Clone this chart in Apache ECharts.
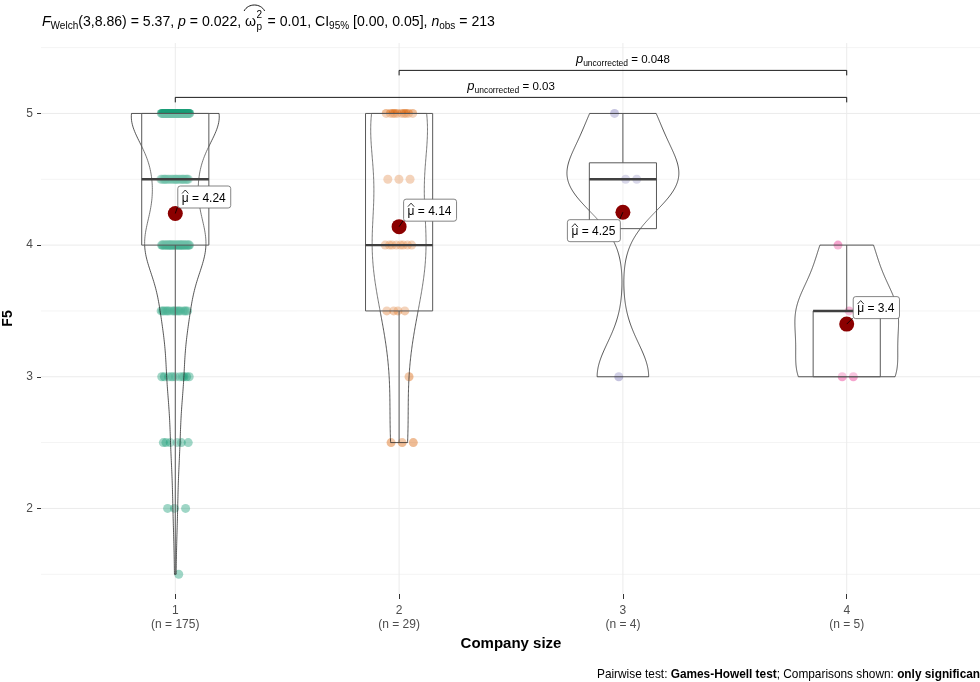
<!DOCTYPE html>
<html>
<head>
<meta charset="utf-8">
<script src="https://cdn.jsdelivr.net/npm/echarts@6/dist/echarts.min.js"></script>
<style>
html, body { margin: 0; padding: 0; background: #ffffff; }
#chart { width: 980px; height: 682px; }
</style>
</head>
<body>
<div id="chart"></div>
<script>
// ---- data ----
const categories = ['1', '2', '3', '4'];
const groupN = [175, 29, 4, 5];
const scoreLevels = [1.5, 2, 2.5, 3, 3.5, 4, 4.5, 5];
// number of respondents at each score level, per company size
const countsG1 = [1, 3, 6, 11, 18, 44, 25, 67];
const countsG2 = [0, 0, 3, 1, 4, 8, 3, 10];
const countsG3 = [0, 0, 0, 1, 0, 0, 2, 1];
const countsG4 = [0, 0, 0, 2, 2, 1, 0, 0];
const groupMeans = [4.24, 4.14, 4.25, 3.4];
// box plot statistics
const whiskerLow = [1.5, 2.5, 4.125, 3];
const boxQ1 = [4, 3.5, 4.125, 3];
const boxMedian = [4.5, 4, 4.5, 3.5];
const boxQ3 = [5, 5, 4.625, 3.5];
const whiskerHigh = [5, 5, 5, 4];
// pairwise comparisons
const pairFrom = [1, 2];
const pairTo = [4, 4];
const pairP = ['0.03', '0.048'];
const pairY = [5.122, 5.327];
// axes
const xTicks = [1, 2, 3, 4];
const yTicks = [2, 3, 4, 5];
const yMinor = [1.5, 2.5, 3.5, 4.5, 5.5];

// ---- styling ----
const COLORS = ['#1B9E77', '#D95F02', '#7570B3', '#E7298A'];
const FONT = '"Liberation Sans", Arial, Helvetica, sans-serif';
const AXIS_TEXT = '#4D4D4D';
const X_MIN = 0.4, X_MAX = 4.6, Y_MIN = 1.35, Y_MAX = 5.535;
const VIOLIN_WIDTH = 0.5, BOX_WIDTH = 0.3, JITTER = 0.065;

// ---- derived quantities ----
const countsByGroup = [countsG1, countsG2, countsG3, countsG4];
function expandCounts(counts) {
  const out = [];
  counts.forEach((c, k) => { for (let j = 0; j < c; j++) out.push(scoreLevels[k]); });
  return out;
}
const groupValues = countsByGroup.map(expandCounts);

function quantile(sorted, p) {
  const h = (sorted.length - 1) * p;
  const lo = Math.floor(h), hi = Math.ceil(h);
  return sorted[lo] + (h - lo) * (sorted[hi] - sorted[lo]);
}
function stdev(v) {
  const m = v.reduce((a, b) => a + b, 0) / v.length;
  return Math.sqrt(v.reduce((a, b) => a + (b - m) * (b - m), 0) / (v.length - 1));
}
// Silverman's rule of thumb (R's bw.nrd0)
function bwNrd0(v) {
  const s = [...v].sort((a, b) => a - b);
  const iqr = quantile(s, 0.75) - quantile(s, 0.25);
  let lo = Math.min(stdev(v), iqr / 1.34);
  if (!(lo > 0)) lo = stdev(v) || Math.abs(s[0]) || 1;
  return 0.9 * lo * Math.pow(v.length, -0.2);
}
function gaussDensity(v, bw, y) {
  let s = 0;
  for (const x of v) { const z = (y - x) / bw; s += Math.exp(-0.5 * z * z); }
  return s / (v.length * bw * Math.sqrt(2 * Math.PI));
}
const NPTS = 256;
const violinProfiles = groupValues.map(v => {
  const bw = bwNrd0(v);
  const lo = Math.min(...v), hi = Math.max(...v);
  const ys = [], ds = [];
  for (let k = 0; k < NPTS; k++) {
    const y = lo + (hi - lo) * k / (NPTS - 1);
    ys.push(y);
    ds.push(gaussDensity(v, bw, y));
  }
  return { ys, ds };
});
const maxDensity = Math.max(...violinProfiles.map(p => Math.max(...p.ds)));

// spread of points around each category (deterministic low-discrepancy offsets)
function jitterOffset(j, g) {
  const f = ((j + 1) * 0.6180339887 + g * 0.37) % 1;
  return (f - 0.5) * 2 * JITTER;
}

// ---- text measurement ----
const mctx = document.createElement('canvas').getContext('2d');
function textWidth(str, size, style, weight) {
  mctx.font = (style || 'normal') + ' ' + (weight || 'normal') + ' ' + size + 'px ' + FONT;
  return mctx.measureText(str).width;
}

// ---- title (statistical summary) ----
function buildTitle() {
  const els = [];
  const cy = 22;
  const big = 14.1, small = 10;
  let x = 42;
  function put(text, size, opts) {
    opts = opts || {};
    els.push({
      type: 'text', x: x, y: cy + (opts.dy || 0), silent: true,
      style: {
        text: text, fontSize: size, fontFamily: FONT, fontStyle: opts.italic ? 'italic' : 'normal',
        fill: '#000', align: 'left', verticalAlign: 'middle'
      }
    });
    x += textWidth(text, size, opts.italic ? 'italic' : 'normal');
  }
  put('F', big, { italic: true });
  put('Welch', small, { dy: 4 });
  put('(3,8.86) = 5.37, ', big);
  put('p', big, { italic: true });
  put(' = 0.022, ', big);
  // omega-hat with stacked super/subscript
  const ox = x;
  put('\u03C9', big);
  const sx = x;
  els.push({ type: 'text', x: sx + 0.5, y: cy - 7, silent: true,
    style: { text: '2', fontSize: small, fontFamily: FONT, fill: '#000', align: 'left', verticalAlign: 'middle' } });
  els.push({ type: 'text', x: sx + 0.5, y: cy + 5, silent: true,
    style: { text: 'p', fontSize: small, fontFamily: FONT, fill: '#000', align: 'left', verticalAlign: 'middle' } });
  x = sx + 0.5 + Math.max(textWidth('2', small), textWidth('p', small)) + 1.5;
  els.push({ type: 'bezierCurve', silent: true,
    shape: { x1: ox - 1, y1: 11, x2: x + 1, y2: 11, cpx1: ox + 3, cpy1: 3, cpx2: x - 3, cpy2: 3 },
    style: { stroke: '#000', lineWidth: 0.9, fill: null } });
  put(' = 0.01, ', big);
  put('CI', big);
  put('95%', small, { dy: 4 });
  put(' [0.00, 0.05], ', big);
  put('n', big, { italic: true });
  put('obs', small, { dy: 4 });
  put(' = 213', big);
  return els;
}

const footer = {
  type: 'text', x: 984, y: 675, silent: true,
  style: {
    text: '{n|Pairwise test: }{b|Games-Howell test}{n|; Comparisons shown: }{b|only significant}',
    align: 'right', verticalAlign: 'middle',
    rich: {
      n: { fontSize: 11.85, fontFamily: FONT, fill: '#000' },
      b: { fontSize: 11.85, fontFamily: FONT, fontWeight: 'bold', fill: '#000' }
    }
  }
};

// ---- series ----
const gridLineData = [];
yTicks.forEach(v => gridLineData.push(['h', v, 1]));
yMinor.forEach(v => gridLineData.push(['h', v, 0]));
xTicks.forEach(v => gridLineData.push(['v', v, 1]));

const gridSeries = {
  type: 'custom', silent: true, z: 0, clip: true,
  data: gridLineData.map((d, i) => [i]),
  renderItem(params, api) {
    const d = gridLineData[params.dataIndex];
    let a, b;
    if (d[0] === 'h') { a = api.coord([X_MIN, d[1]]); b = api.coord([X_MAX, d[1]]); }
    else { a = api.coord([d[1], Y_MIN]); b = api.coord([d[1], Y_MAX]); }
    return {
      type: 'line', shape: { x1: a[0], y1: a[1], x2: b[0], y2: b[1] },
      style: { stroke: d[2] ? '#EBEBEB' : '#F4F4F4', lineWidth: 1 }
    };
  }
};

// jittered observations sit underneath the translucent violin and box layers
const pointSeries = groupValues.map((vals, g) => ({
  type: 'scatter', silent: true, z: 1,
  symbol: 'circle', symbolSize: 9,
  itemStyle: { color: COLORS[g], opacity: 0.42 },
  data: vals.map((v, j) => [g + 1 + jitterOffset(j, g), v])
}));

const violinSeries = {
  type: 'custom', silent: true, z: 2,
  data: categories.map((c, i) => [i + 1]),
  renderItem(params, api) {
    const i = params.dataIndex, prof = violinProfiles[i], cx = i + 1;
    const right = [], left = [];
    for (let k = 0; k < prof.ys.length; k++) {
      const hw = VIOLIN_WIDTH / 2 * prof.ds[k] / maxDensity;
      right.push(api.coord([cx + hw, prof.ys[k]]));
      left.push(api.coord([cx - hw, prof.ys[k]]));
    }
    return {
      type: 'polygon', shape: { points: right.concat(left.reverse()) },
      style: { fill: 'rgba(255,255,255,0.2)', stroke: '#1f1f1f', lineWidth: 0.75 }
    };
  }
};

const boxSeries = {
  type: 'custom', silent: true, z: 3,
  data: categories.map((c, i) => [i + 1]),
  renderItem(params, api) {
    const i = params.dataIndex, cx = i + 1, hw = BOX_WIDTH / 2;
    const tl = api.coord([cx - hw, boxQ3[i]]), br = api.coord([cx + hw, boxQ1[i]]);
    const mL = api.coord([cx - hw, boxMedian[i]]), mR = api.coord([cx + hw, boxMedian[i]]);
    const wTop = api.coord([cx, whiskerHigh[i]]), q3c = api.coord([cx, boxQ3[i]]);
    const wBot = api.coord([cx, whiskerLow[i]]), q1c = api.coord([cx, boxQ1[i]]);
    const lineStyle = { stroke: '#595959', lineWidth: 1 };
    return {
      type: 'group', children: [
        { type: 'line', shape: { x1: wTop[0], y1: wTop[1], x2: q3c[0], y2: q3c[1] }, style: lineStyle },
        { type: 'line', shape: { x1: q1c[0], y1: q1c[1], x2: wBot[0], y2: wBot[1] }, style: lineStyle },
        { type: 'rect', shape: { x: tl[0], y: tl[1], width: br[0] - tl[0], height: br[1] - tl[1] },
          style: { fill: 'rgba(255,255,255,0.2)', stroke: '#595959', lineWidth: 1 } },
        { type: 'line', shape: { x1: mL[0], y1: mL[1], x2: mR[0], y2: mR[1] },
          style: { stroke: '#404040', lineWidth: 2.4 } }
      ]
    };
  }
};

const meanSeries = {
  type: 'scatter', silent: true, z: 6,
  symbol: 'circle', symbolSize: 15,
  itemStyle: { color: '#8B0000', opacity: 1 },
  data: groupMeans.map((m, i) => [i + 1, m])
};

// label box placement relative to the mean marker (pixels)
const labelOffsets = [[2, -28], [4, -28], [-56, 7], [6, -28]];
const meanLabelSeries = {
  type: 'custom', silent: true, z: 7,
  data: groupMeans.map((m, i) => [i + 1, m]),
  renderItem(params, api) {
    const i = params.dataIndex;
    const p = api.coord([i + 1, groupMeans[i]]);
    const rest = ' = ' + groupMeans[i];
    const muW = textWidth('\u03BC', 12), restW = textWidth(rest, 12);
    const w = muW + restW + 9, h = 22;
    const rx = p[0] + labelOffsets[i][0], ry = p[1] + labelOffsets[i][1];
    // leader from the marker to the closest point of the label box
    const nx = Math.max(rx, Math.min(p[0], rx + w)), ny = Math.max(ry, Math.min(p[1], ry + h));
    const tx = rx + 4.5, ty = ry + h / 2 + 2;
    return {
      type: 'group', children: [
        { type: 'line', shape: { x1: p[0], y1: p[1], x2: nx, y2: ny }, style: { stroke: '#000', lineWidth: 0.8 } },
        { type: 'rect', shape: { x: rx + 0.5, y: ry + 0.5, width: w, height: h, r: 2.5 },
          style: { fill: '#ffffff', stroke: '#666666', lineWidth: 0.8 } },
        { type: 'text', x: tx, y: ty,
          style: { text: '\u03BC' + rest, fontSize: 12, fontFamily: FONT, fill: '#000', align: 'left', verticalAlign: 'middle' } },
        { type: 'polyline', shape: { points: [[tx + 0.3, ty - 5], [tx + muW / 2, ty - 8.5], [tx + muW - 0.3, ty - 5]] },
          style: { stroke: '#000', lineWidth: 0.8, fill: null } }
      ]
    };
  }
};

const bracketSeries = {
  type: 'custom', silent: true, z: 8, clip: false,
  data: pairP.map((p, i) => [i]),
  renderItem(params, api) {
    const i = params.dataIndex;
    const a = api.coord([pairFrom[i], pairY[i]]), b = api.coord([pairTo[i], pairY[i]]);
    const st = { stroke: '#000', lineWidth: 0.9 };
    return {
      type: 'group', children: [
        { type: 'polyline', shape: { points: [[a[0], a[1] + 5], [a[0], a[1]], [b[0], b[1]], [b[0], b[1] + 5]] },
          style: Object.assign({ fill: null }, st) },
        { type: 'text', x: (a[0] + b[0]) / 2, y: a[1] - 11,
          style: {
            text: '{p|p}{s|uncorrected}{t| = ' + pairP[i] + '}',
            align: 'center', verticalAlign: 'middle',
            rich: {
              p: { fontSize: 13, fontFamily: FONT, fontStyle: 'italic', fill: '#000', lineHeight: 18, verticalAlign: 'middle' },
              s: { fontSize: 8.5, fontFamily: FONT, fill: '#000', lineHeight: 10, verticalAlign: 'bottom' },
              t: { fontSize: 11.5, fontFamily: FONT, fill: '#000', lineHeight: 18, verticalAlign: 'middle' }
            }
          } }
      ]
    };
  }
};

// ---- chart ----
const chart = echarts.init(document.getElementById('chart'), null, { renderer: 'canvas' });
chart.setOption({
  backgroundColor: '#ffffff',
  animation: false,
  grid: { left: 41, right: -1, top: 43, bottom: 88, containLabel: false, outerBoundsMode: 'none' },
  xAxis: {
    type: 'value', min: X_MIN, max: X_MAX,
    axisLine: { show: false },
    splitLine: { show: false },
    axisTick: { show: true, customValues: xTicks, length: 5, lineStyle: { color: '#333333', width: 1 } },
    axisLabel: {
      customValues: xTicks, margin: 10,
      formatter: v => '{a|' + v + '}\n{b|(n = ' + groupN[Math.round(v) - 1] + ')}',
      rich: {
        a: { fontSize: 12, fontFamily: FONT, color: AXIS_TEXT, lineHeight: 14 },
        b: { fontSize: 12, fontFamily: FONT, color: AXIS_TEXT, lineHeight: 14 }
      }
    },
    name: 'Company size', nameLocation: 'middle', nameGap: 36,
    nameTextStyle: { fontSize: 15, fontWeight: 'bold', fontFamily: FONT, color: '#000' }
  },
  yAxis: {
    type: 'value', min: Y_MIN, max: Y_MAX,
    axisLine: { show: false },
    splitLine: { show: false },
    axisTick: { show: true, customValues: yTicks, length: 4, lineStyle: { color: '#333333', width: 1 } },
    axisLabel: { customValues: yTicks, margin: 8, fontSize: 12, fontFamily: FONT, color: AXIS_TEXT },
    name: 'F5', nameLocation: 'middle', nameGap: 26, nameRotate: 90,
    nameTextStyle: { fontSize: 14, fontWeight: 'bold', fontFamily: FONT, color: '#000' }
  },
  graphic: { elements: buildTitle().concat([footer]) },
  series: [gridSeries].concat(pointSeries, [violinSeries, boxSeries, meanSeries, meanLabelSeries, bracketSeries])
});
</script>
</body>
</html>
